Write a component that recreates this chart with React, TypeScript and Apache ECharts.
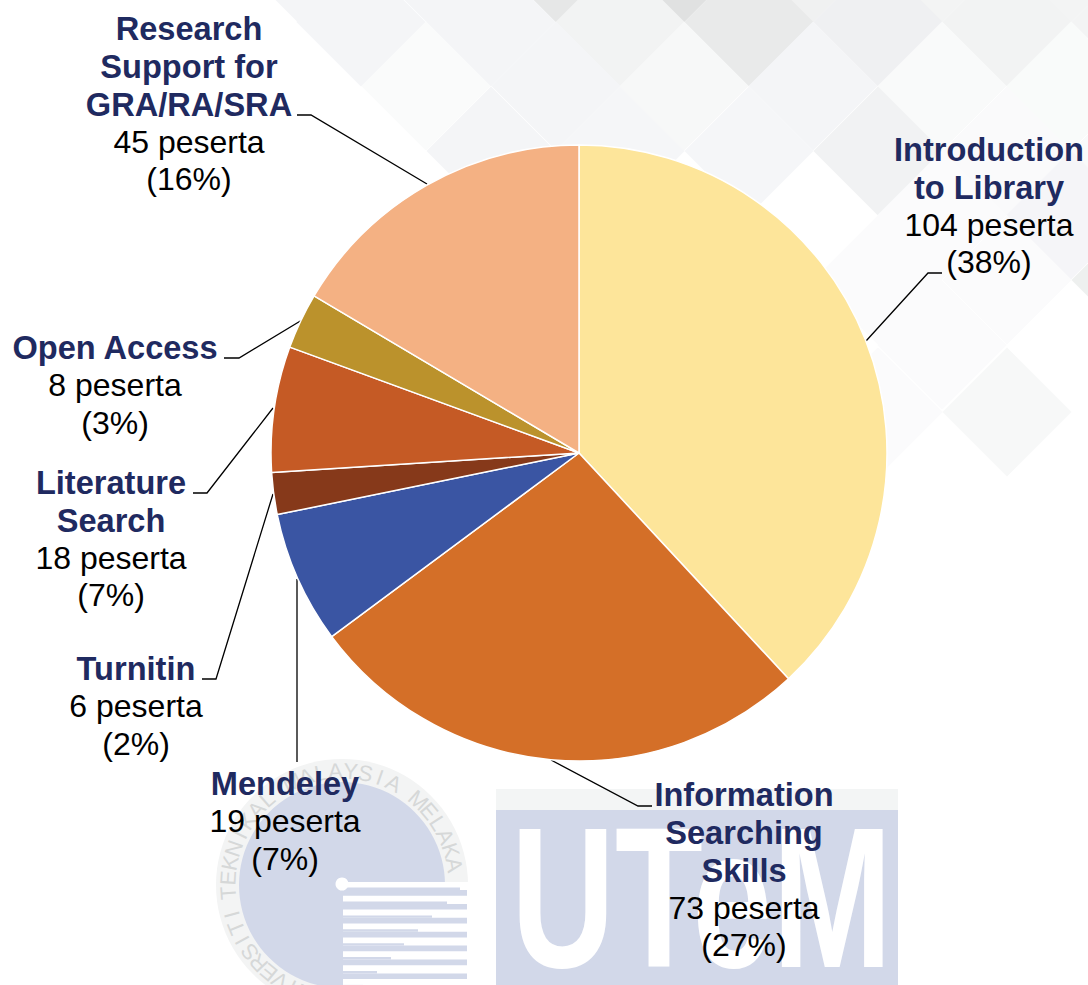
import React, { useEffect, useRef } from "react";
import * as echarts from "echarts";

const categories = [
  "Introduction\nto Library",
  "Information\nSearching\nSkills",
  "Mendeley",
  "Turnitin",
  "Literature\nSearch",
  "Open Access",
  "Research\nSupport for\nGRA/RA/SRA",
];
const participants = [104, 73, 19, 6, 18, 8, 45];
const sliceColors = ["#FDE59A", "#D46F28", "#3A55A3", "#86391A", "#C55A25", "#BB922C", "#F4B183"];
const unit = "peserta";

const labelCenters = [
  [989, 206], [744, 870], [285, 821], [136, 706], [111, 539], [115, 385], [189, 104],
];
const leaderLines = [
  [[866, 341], [928, 273], [942, 273]],
  [[551, 760], [638, 806], [652, 806]],
  [[297, 579], [297, 762], [297, 762]],
  [[273, 494], [216, 679], [202, 679]],
  [[273, 408], [207, 493], [193, 493]],
  [[302, 320], [239, 358], [224, 358]],
  [[427, 184], [311, 115], [297, 115]],
];

// background diamonds: centre x, centre y, colour
const diamonds: [number, number, string][] = [
  [298, -42, "#F4F5F7"], [427, -42, "#F4F5F7"], [556, -42, "#E6E7E7"], [684, -42, "#E0E1E1"], [813, -42, "#F0F1F1"], [942, -42, "#F3F4F4"], [1071, -42, "#F3F4F4"],
  [361, 22, "#F4F5F7"], [491, 22, "#F4F5F7"], [620, 22, "#F2F3F3"], [749, 22, "#E9EAEA"], [878, 22, "#EFF0F2"], [1007, 22, "#F2F3F3"], [1136, 22, "#F3F4F4"],
  [426, 86, "#FAFBFB"], [556, 86, "#F4F5F7"], [684, 86, "#F7F8F8"], [813, 86, "#F4F5F7"], [942, 86, "#F9FAFA"], [1071, 86, "#F9FBFA"],
  [491, 151, "#F4F5F7"], [620, 151, "#F5F6F8"], [749, 151, "#F5F6F8"], [878, 151, "#F1F2F3"], [1007, 151, "#FAFAFB"], [1136, 151, "#F9FAFA"],
  [942, 215, "#FBFBFC"], [1071, 215, "#F5F5F8"], [878, 280, "#FBFBFC"], [1007, 280, "#FBFBFC"], [1136, 280, "#EEF0EF"],
  [942, 345, "#FBFBFC"], [878, 412, "#FBFBFC"], [1007, 412, "#F7F8F8"],
];

const ringTop = "TEKNIKAL MALAYSIA MELAKA";
const ringBottom = "UNIVERSITI";
const stripeSteps = [460, 447, 432, 418, 404, 391, 377, 363];

const seal = { x: 342, y: 885 };
const BLUE = "#D2D8E9";

function ringLetters(text: string, start: number, step: number) {
  return text.split("").map((ch, i) => {
    const deg = start + i * step;
    const rad = (deg * Math.PI) / 180;
    return {
      type: "text",
      x: seal.x + 114 * Math.sin(rad),
      y: seal.y - 114 * Math.cos(rad),
      rotation: -rad,
      style: { text: ch, font: "22px 'Liberation Sans'", fill: "#D6D8D8", align: "center", verticalAlign: "middle" },
    };
  });
}

function background() {
  const els: any[] = diamonds.map(([cx, cy, c]) => ({
    type: "polygon",
    shape: { points: [[cx, cy - 64.5], [cx + 64.5, cy], [cx, cy + 64.5], [cx - 64.5, cy]] },
    style: { fill: c },
  }));
  els.push({ type: "circle", shape: { cx: seal.x, cy: seal.y, r: 126 }, style: { fill: "#F3F4F4" } });
  els.push(...ringLetters(ringTop, 266, 7.56), ...ringLetters(ringBottom, 192, 7));
  els.push({ type: "circle", shape: { cx: seal.x, cy: seal.y, r: 103 }, style: { fill: BLUE } });
  els.push({ type: "rect", shape: { x: 343, y: 882, width: 130, height: 110 }, style: { fill: "#fff" } });
  stripeSteps.forEach((sx, i) => {
    const y = 890 + i * 13.9;
    els.push({ type: "rect", shape: { x: 343, y, width: 124, height: 5.7 }, style: { fill: BLUE } });
    els.push({ type: "rect", shape: { x: 343, y: y - 2.4, width: sx - 343, height: 2.4 }, style: { fill: BLUE } });
  });
  els.push({ type: "circle", shape: { cx: 342, cy: 884, r: 6.5 }, style: { fill: "#fff" } });
  els.push({ type: "rect", shape: { x: 496, y: 789, width: 402, height: 21 }, style: { fill: "#F3F5F5" } });
  els.push({ type: "rect", shape: { x: 496, y: 810, width: 402, height: 175 }, style: { fill: BLUE } });
  els.push({
    type: "text", x: 511, y: 898, scaleX: 0.72,
    style: { text: "UTeM", font: "bold 200px 'Liberation Sans'", fill: "#fff", align: "left", verticalAlign: "middle" },
  });
  return els;
}

export default function App() {
  const ref = useRef<HTMLDivElement>(null);
  useEffect(() => {
    const chart = echarts.init(ref.current!, undefined, { renderer: "svg" });
    const total = participants.reduce((a, b) => a + b, 0);
    chart.setOption({
      animation: false,
      backgroundColor: "#fff",
      graphic: { elements: background() },
      series: [
        {
          type: "pie",
          center: [579, 453],
          radius: 308,
          startAngle: 90,
          clockwise: true,
          avoidLabelOverlap: false,
          silent: true,
          data: categories.map((name, i) => ({
            name,
            value: participants[i],
            itemStyle: { color: sliceColors[i], borderColor: "#fff", borderWidth: 1.5 },
          })),
          label: {
            show: true,
            position: "outside",
            formatter: (p: any) => {
              const head = String(p.name).split("\n").map((l: string) => `{b|${l}}`).join("\n");
              return `${head}\n{n|${p.value} ${unit}}\n{n|(${Math.round((p.value / total) * 100)}%)}`;
            },
            rich: {
              b: { fontFamily: "Liberation Sans", fontSize: 32.6, fontWeight: "bold", color: "#1F2A60", lineHeight: 37.6, align: "center" },
              n: { fontFamily: "Liberation Sans", fontSize: 32, color: "#000", lineHeight: 37.6, align: "center" },
            },
          },
          labelLine: { show: true, lineStyle: { color: "#000", width: 1.3 } },
          labelLayout: (p: any) => ({
            x: labelCenters[p.dataIndex][0],
            y: labelCenters[p.dataIndex][1],
            align: "center",
            verticalAlign: "middle",
            labelLinePoints: leaderLines[p.dataIndex],
          }),
        },
      ],
    });
    return () => chart.dispose();
  }, []);
  return <div ref={ref} style={{ position: "fixed", left: 0, top: 0, width: 1088, height: 985 }} />;
}
